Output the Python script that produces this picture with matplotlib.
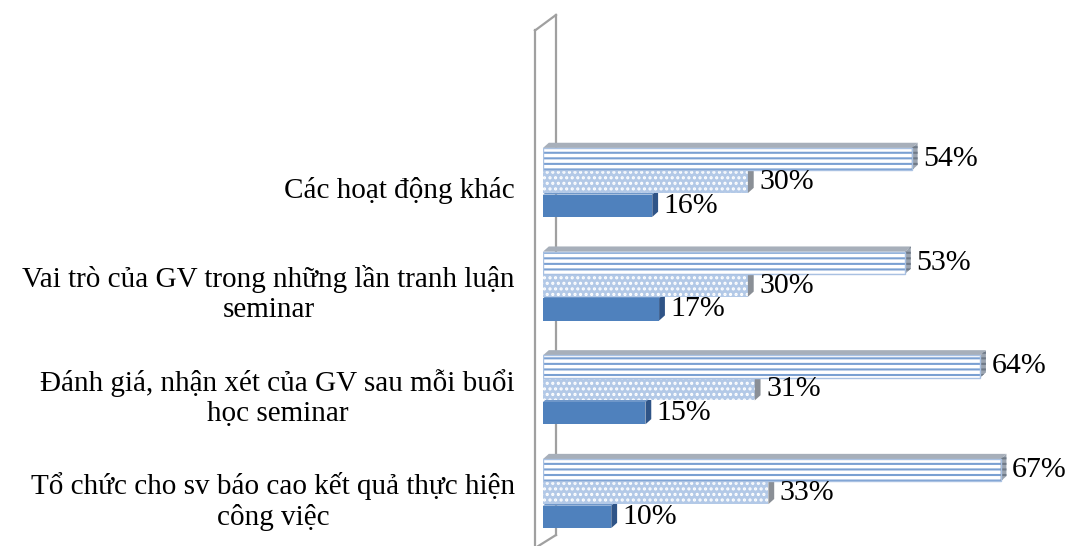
import matplotlib.pyplot as plt
from matplotlib.patches import Polygon

plt.rcParams['font.family'] = ['Liberation Serif', 'DejaVu Serif']
plt.rcParams['hatch.linewidth'] = 1.5

categories = [
    "Tổ chức cho sv báo cao kết quả thực hiện\ncông việc",
    "Đánh giá, nhận xét của GV sau mỗi buổi\nhọc seminar",
    "Vai trò của GV trong những lần tranh luận\nseminar",
    "Các hoạt động khác",
]
solid_vals = [10, 15, 17, 16]
dotted_vals = [33, 31, 30, 30]
striped_vals = [67, 64, 53, 54]

fig = plt.figure(figsize=(10.72, 5.46), dpi=100)
ax = fig.add_axes([543 / 1072, 0, 1 - 543 / 1072, 1])
ax.set_xlim(0, 77.45)
ax.set_ylim(-0.511, 4.754)
ax.axis('off')

h = 0.215
dx, dy = 0.85, 0.05  # depth of the 3d faces
ypos = list(range(len(categories)))

series = [
    # values, offset, front face, hatch, hatch colour, top face, side face
    (solid_vals, -0.23, '#4F81BD', None, '#4F81BD', '#6F97C9', '#2F5487'),
    (dotted_vals, 0.0, '#B3C9E7', '...', 'white', '#C9D6E8', '#8A8F96'),
    (striped_vals, 0.22, 'white', '---', '#7AA0D2', '#A7AFBA', '#9BA4B0'),
]

# wall of the 3d frame
wall = dict(color='#A0A0A0', lw=1.6, zorder=1, clip_on=False)
ax.plot([-1.17, -1.17], [-0.52, 4.46], **wall)
ax.plot([-1.17, 1.9], [4.46, 4.61], **wall)
ax.plot([1.9, 1.9], [4.61, -0.405], **wall)
ax.plot([1.9, -0.9], [-0.405, -0.52], **wall)

for k, (vals, off, face, hatch, hcol, topc, sidec) in enumerate(series):
    ys = [y + off for y in ypos]
    bars = ax.barh(ys, vals, height=h, color=face, edgecolor=hcol,
                   hatch=hatch, linewidth=0, zorder=3 + 2 * k)
    for b in bars:
        x0, y0 = b.get_x(), b.get_y()
        w, hh = b.get_width(), b.get_height()
        top = Polygon([(x0, y0 + hh), (x0 + dx, y0 + hh + dy),
                       (x0 + w + dx, y0 + hh + dy), (x0 + w, y0 + hh)],
                      closed=True, facecolor=topc, edgecolor='none',
                      zorder=2 + 2 * k)
        side = Polygon([(x0 + w, y0), (x0 + w + dx, y0 + dy),
                        (x0 + w + dx, y0 + hh + dy), (x0 + w, y0 + hh)],
                       closed=True, facecolor=sidec,
                       edgecolor='#6F7A88' if hatch else 'none',
                       hatch='---' if hatch == '---' else None, linewidth=0,
                       zorder=3 + 2 * k)
        ax.add_patch(top)
        ax.add_patch(side)
        ax.text(x0 + w + dx + 0.8, y0 + hh / 2, f"{w:.0f}%",
                ha='left', va='center', fontsize=21.5, zorder=10)
    if hatch == '---':
        ax.barh(ys, vals, height=h, color='none', edgecolor='#A9C1E2',
                linewidth=1.0, zorder=3 + 2 * k)

for y, lab in zip(ypos, categories):
    ax.text(-4.1, y - 0.085, lab, ha='right', va='center',
            multialignment='center', fontsize=21, linespacing=1.2,
            clip_on=False)

fig.savefig('out.png', dpi=100)
